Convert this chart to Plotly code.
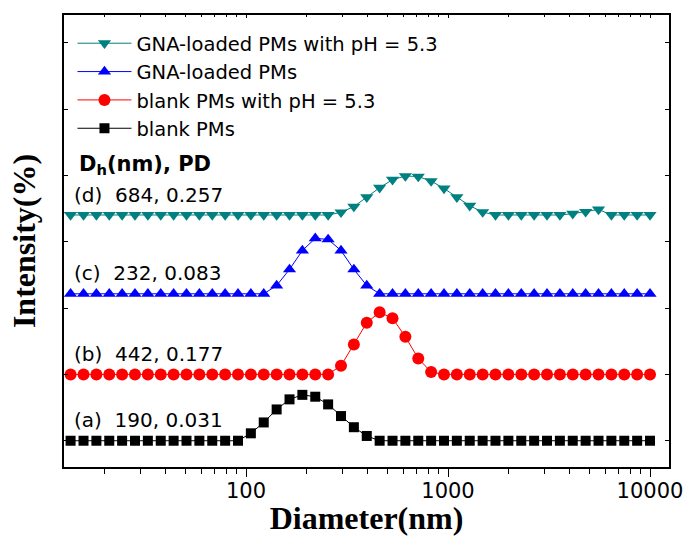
import plotly.graph_objects as go

# Size bins (nm)
diameter = [13.54, 15.69, 18.17, 21.04, 24.36, 28.21, 32.67, 37.84, 43.82, 50.75,
            58.77, 68.06, 78.82, 91.28, 105.7, 122.4, 141.8, 164.2, 190.1, 220.2,
            255.0, 295.3, 342.0, 396.1, 458.7, 531.2, 615.1, 712.4, 825.0, 955.4,
            1106, 1281, 1484, 1718, 1990, 2305, 2669, 3091, 3580, 4145,
            4801, 5560, 6439, 7456, 8635, 10000]

# Intensity (%) per bin
blank = [0, 0, 0, 0, 0, 0, 0, 0, 0, 0,
         0, 0, 0, 0, 2.8, 6.9, 11.8, 15.6, 17.3, 16.6,
         13.7, 9.3, 5.1, 1.8, 0, 0, 0, 0, 0, 0,
         0, 0, 0, 0, 0, 0, 0, 0, 0, 0,
         0, 0, 0, 0, 0, 0]
blank_ph = [0, 0, 0, 0, 0, 0, 0, 0, 0, 0,
            0, 0, 0, 0, 0, 0, 0, 0, 0, 0,
            0, 3.3, 11.3, 19.5, 23.4, 21.2, 14.2, 6.0, 0.9, 0,
            0, 0, 0, 0, 0, 0, 0, 0, 0, 0,
            0, 0, 0, 0, 0, 0]
gna = [0, 0, 0, 0, 0, 0, 0, 0, 0, 0,
       0, 0, 0, 0, 0, 0, 3.1, 9.2, 16.3, 20.9,
       20.5, 16.3, 9.2, 3.1, 0, 0, 0, 0, 0, 0,
       0, 0, 0, 0, 0, 0, 0, 0, 0, 0,
       0, 0, 0, 0, 0, 0]
gna_ph = [0, 0, 0, 0, 0, 0, 0, 0, 0, 0,
          0, 0, 0, 0, 0, 0, 0, 0, 0, 0,
          0, 1.0, 3.2, 6.7, 10.3, 13.3, 14.7, 14.5, 12.8, 10.0,
          6.7, 3.5, 1.1, 0, 0, 0, 0, 0, 0, 0.5,
          1.2, 2.1, 0, 0, 0, 0]

names = ["blank PMs", "blank PMs with pH = 5.3", "GNA-loaded PMs", "GNA-loaded PMs with pH = 5.3"]
offsets = [0, 25, 55.4, 85.1]
colors = ["#000000", "#ff0000", "#0000ff", "#008080"]
symbols = ["square", "circle", "triangle-up", "triangle-down"]
sizes = [10, 12, 11.5, 11.5]
labels = ["(a)  190, 0.031", "(b)  442, 0.177", "(c)  232, 0.083", "(d)  684, 0.257"]
label_y = [7.8, 32.7, 63.2, 92.6]
minor_vals = [20, 30, 40, 50, 60, 70, 80, 90, 200, 300, 400, 500, 600, 700, 800, 900,
              2000, 3000, 4000, 5000, 6000, 7000, 8000, 9000]

series = [blank, blank_ph, gna, gna_ph]
SANS = "DejaVu Sans, Liberation Sans, Arial"
SERIF = "Liberation Serif, Times New Roman"

fig = go.Figure()
for s, name, off, c, sym, sz in zip(series, names, offsets, colors, symbols, sizes):
    fig.add_trace(go.Scatter(
        x=diameter, y=[v + off for v in s], name=name, mode="lines+markers",
        line=dict(color=c, width=1),
        marker=dict(symbol=sym, size=sz, color=c, line=dict(width=0)),
    ))

# invisible trace on top axis for top ticks
fig.add_trace(go.Scatter(x=[20, 5000], y=[0, 0], xaxis="x2", mode="markers",
                         marker=dict(opacity=0), showlegend=False, hoverinfo="skip"))

annotations = [dict(text="<b>D<sub>h</sub>(nm), PD</b>", x=0.022, y=104, xref="paper", yref="y",
                    xanchor="left", yanchor="middle", showarrow=False,
                    font=dict(family=SANS, size=21, color="black"))]
for t, yy in zip(labels, label_y):
    annotations.append(dict(text=t, x=0.014, y=yy, xref="paper", yref="y",
                            xanchor="left", yanchor="middle", showarrow=False,
                            font=dict(family=SANS, size=20, color="black")))

xr = [1.099, 4.094]
fig.update_layout(
    width=687, height=536,
    margin=dict(l=64, r=18, t=15, b=69),
    paper_bgcolor="white", plot_bgcolor="white",
    showlegend=True,
    legend=dict(x=0.014, y=0.98, xanchor="left", yanchor="top", traceorder="reversed",
                bgcolor="rgba(0,0,0,0)", font=dict(family=SANS, size=19.5, color="black"),
                itemwidth=54),
    xaxis=dict(type="log", range=xr, showgrid=False, zeroline=False, automargin=False,
               showline=True, linecolor="black", linewidth=1.5, mirror=True,
               ticks="outside", ticklen=8, tickwidth=1, tickcolor="black",
               tickvals=[100, 1000, 10000], ticktext=["100", "1000", "10000"],
               ticklabelstandoff=-4,
               minor=dict(ticks="outside", ticklen=5, tickwidth=1, tickcolor="black",
                          tickvals=minor_vals),
               tickfont=dict(family=SANS, size=21, color="black"),
               title=dict(text="<b>Diameter(nm)</b>", standoff=0,
                          font=dict(family=SERIF, size=32, color="black"))),
    xaxis2=dict(type="log", range=xr, overlaying="x", side="top", showgrid=False, zeroline=False,
                automargin=False, showline=False, ticks="inside", ticklen=3, tickcolor="black",
                tickvals=[100, 1000, 10000], showticklabels=False,
                minor=dict(ticks="inside", ticklen=2, tickcolor="black", tickvals=minor_vals)),
    yaxis=dict(range=[-9.9, 160.5], showgrid=False, zeroline=False, automargin=False,
               showline=True, linecolor="black", linewidth=1.5, mirror="ticks",
               ticks="inside", ticklen=4, tickcolor="black", dtick=25, tick0=0,
               showticklabels=False,
               title=dict(text="<b>Intensity(%)</b>", standoff=17,
                          font=dict(family=SERIF, size=32, color="black"))),
    annotations=annotations,
)

fig.write_html("out.html", config={"displayModeBar": False},
               post_script="document.body.style.margin='0';")
